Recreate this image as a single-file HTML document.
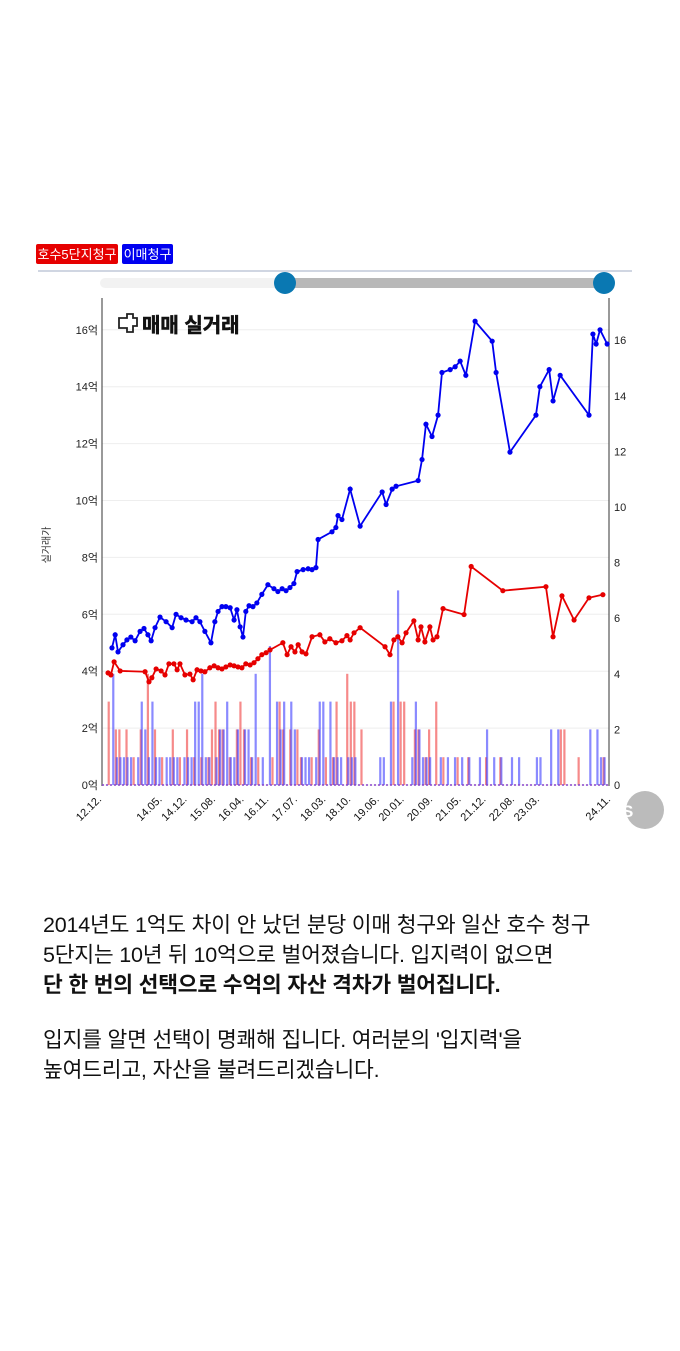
<!DOCTYPE html>
<html><head><meta charset="utf-8">
<style>
body{margin:0;background:#fff;width:680px;height:1351px;overflow:hidden;font-family:"Liberation Sans","Noto Sans CJK KR",sans-serif;}
.txt{position:absolute;left:43px;font-size:21.5px;color:#111;line-height:30px;white-space:nowrap;letter-spacing:-0.2px;}
</style></head><body>
<svg id="c" width="680" height="880" style="position:absolute;left:0;top:0" font-family="Liberation Sans, Noto Sans CJK KR, sans-serif">
<g>
<rect x="36" y="244" width="82" height="20" rx="2" fill="#e60000"/>
<text x="77" y="259" font-size="13" fill="#fff" text-anchor="middle">호수5단지청구</text>
<rect x="122" y="244" width="51" height="20" rx="2" fill="#0000f0"/>
<text x="147.5" y="259" font-size="13" fill="#fff" text-anchor="middle">이매청구</text>
</g>
<line x1="38" y1="271" x2="632" y2="271" stroke="#d0d6e2" stroke-width="2"/>
<g>
<rect x="100" y="278" width="505" height="10" rx="5" fill="#f2f2f2"/>
<rect x="285" y="278" width="320" height="10" fill="#b8b8b8"/>
<circle cx="285" cy="283" r="11" fill="#0a78b2"/>
<circle cx="604" cy="283" r="11" fill="#0a78b2"/>
</g>
<g id="grid"></g>
<line x1="102" y1="298" x2="102" y2="786" stroke="#333" stroke-width="1"/>
<line x1="609" y1="298" x2="609" y2="786" stroke="#333" stroke-width="1"/>
<g>
<path d="M119 318h8v-4h6v4h4v8h-4v6h-6v-4h-8z" fill="none" stroke="#222" stroke-width="1.8"/>
<text x="142" y="332" font-size="20" font-weight="bold" fill="#111" stroke="#111" stroke-width="0.6">매매 실거래</text>
</g>
<text transform="translate(50,545) rotate(-90)" font-size="10" fill="#333" text-anchor="middle">실거래가</text>
<g id="bars"></g><g id="lines"></g><g id="xl"></g>
<circle cx="645" cy="810" r="19" fill="#bbb"/>
<text x="622" y="817" font-size="17" font-weight="bold" fill="#fff">S</text>
</svg>
<div class="txt" style="top:910px">2014년도 1억도 차이 안 났던 분당 이매 청구와 일산 호수 청구<br>5단지는 10년 뒤 10억으로 벌어졌습니다. 입지력이 없으면<br><b>단 한 번의 선택으로 수억의 자산 격차가 벌어집니다.</b></div>
<div class="txt" style="top:1025px">입지를 알면 선택이 명쾌해 집니다. 여러분의 '입지력'을<br>높여드리고, 자산을 불려드리겠습니다.</div>
<script>
const blueM=[2.8,3.7,4.5,5.9,7.0,8.1,9.3,10.7,11.8,12.9,13.8,14.9,16.3,18.0,19.7,20.8,22.2,23.6,25.3,26.4,27.5,28.9,30.6,31.7,32.6,33.7,34.8,36.0,37.1,37.9,38.8,39.6,40.4,41.3,42.4,43.5,44.9,46.6,48.3,49.4,50.6,51.7,52.8,53.9,54.8,56.5,57.9,59.0,60.1,60.7,64.6,65.7,66.3,67.4,69.7,72.5,78.7,79.8,81.5,82.6,88.8,89.9,91.0,92.7,94.4,95.5,97.8,99.2,100.6,102.2,104.8,109.6,110.7,114.6,121.9,123.0,125.6,126.7,128.7,136.8,137.9,138.8,139.9,141.9];
const blueV=[4.82,5.28,4.68,4.93,5.1,5.2,5.07,5.4,5.5,5.28,5.07,5.53,5.9,5.74,5.53,6.0,5.88,5.8,5.74,5.88,5.74,5.4,5.0,5.74,6.1,6.27,6.27,6.23,5.8,6.16,5.56,5.2,6.1,6.3,6.27,6.4,6.7,7.04,6.9,6.8,6.9,6.83,6.94,7.08,7.5,7.57,7.6,7.57,7.64,8.63,8.9,9.05,9.47,9.33,10.4,9.1,10.3,9.86,10.4,10.5,10.7,11.44,12.68,12.25,13.0,14.5,14.6,14.7,14.9,14.4,16.3,15.6,14.5,11.7,13.0,14.0,14.6,13.5,14.4,13.0,15.85,15.5,16.0,15.5];
const redM=[1.7,2.5,3.4,5.1,12.1,13.2,14.0,15.2,16.6,17.7,18.8,20.2,21.1,21.9,23.3,24.7,25.6,26.7,27.8,28.9,30.3,31.5,32.6,33.7,34.8,36.0,37.1,38.2,39.3,40.4,41.6,42.7,43.8,44.9,46.1,47.2,50.8,52.0,53.1,54.2,55.1,56.2,57.3,59.0,61.2,62.6,64.0,65.7,67.4,68.8,69.7,70.8,72.5,79.5,80.9,82.0,83.1,84.3,85.4,87.6,88.8,89.6,90.7,92.1,93.0,94.1,95.8,101.7,103.7,112.6,124.7,126.7,129.2,132.6,136.8,140.7];
const redV=[3.94,3.87,4.33,4.01,3.98,3.63,3.77,4.08,4.01,3.87,4.26,4.26,4.05,4.26,3.87,3.9,3.7,4.05,4.01,3.98,4.12,4.19,4.12,4.08,4.15,4.22,4.19,4.15,4.12,4.26,4.22,4.3,4.44,4.58,4.65,4.75,5.0,4.58,4.86,4.68,4.93,4.68,4.61,5.21,5.28,5.03,5.14,5.0,5.07,5.25,5.1,5.35,5.53,4.86,4.58,5.1,5.21,5.0,5.35,5.77,5.1,5.56,5.03,5.56,5.1,5.21,6.2,5.99,7.68,6.83,6.97,5.21,6.65,5.8,6.58,6.69];
const blueBarM=[3,4,5,6,7,8,10,11,12,13,14,15,16,18,19,20,21,23,24,25,26,27,28,29,30,32,33,34,35,36,37,38,40,41,42,43,45,47,49,50,51,53,54,56,57,58,60,61,62,64,65,66,67,69,70,71,78,79,81,83,87,88,89,90,91,92,95,97,99,101,103,106,108,110,112,115,117,122,123,126,128,137,139,140,141];
const blueBarV=[4,1,1,1,1,1,1,3,2,1,3,1,1,1,1,1,1,1,1,1,3,3,4,1,1,1,2,2,3,1,1,2,2,2,1,4,1,5,3,2,3,3,2,1,1,1,1,3,3,3,1,1,1,1,1,1,1,1,3,7,1,3,2,1,1,1,1,1,1,1,1,1,2,1,1,1,1,1,1,2,2,2,2,1,1];
const redBarM=[2,4,5,7,9,11,13,15,17,20,22,24,26,28,30,31,32,33,34,36,38,39,40,42,44,48,50,51,53,55,56,59,61,63,65,66,69,70,71,73,82,84,85,88,89,91,92,94,96,100,103,108,112,129,130,134,141];
const redBarV=[3,2,2,2,1,2,4,2,1,2,1,2,1,1,1,2,3,2,2,1,2,3,2,1,1,1,3,2,2,2,1,1,2,1,1,3,4,3,3,2,3,3,3,2,2,1,2,3,1,1,1,1,1,2,2,1,1];
const xTickM=[0,17,24,32,40,47,55,63,70,78,85,93,101,108,116,123,143];
const xTickL=["12.12.","14.05.","14.12.","15.08.","16.04.","16.11.","17.07.","18.03.","18.10.","19.06.","20.01.","20.09.","21.05.","21.12.","22.08.","23.03.","24.11."];
const yLeft=[0,2,4,6,8,10,12,14,16];
const NS='http://www.w3.org/2000/svg';
const X=m=>102+m*3.56, YL=v=>785-v*28.45, YR=v=>785-v*27.8;
function mk(t,a,p){const e=document.createElementNS(NS,t);for(const k in a)e.setAttribute(k,a[k]);p.appendChild(e);return e;}
const grid=document.getElementById('grid');
yLeft.forEach(v=>{
 const l=mk('line',{x1:102,x2:609,y1:YL(v),y2:YL(v),stroke:'#eee'},grid);
 
 
 const t=mk('text',{x:98,y:YL(v)+4,'font-size':11,'text-anchor':'end',fill:'#222'},grid);t.textContent=v+'억';
 
 
 const r=mk('text',{x:614,y:YR(v)+4,'font-size':11,fill:'#222'},grid);r.textContent=v;
 
 
});
const bars=document.getElementById('bars');
redBarM.forEach((m,i)=>{const b=mk('rect',{x:X(m)-1.5,y:YR(redBarV[i]),width:2.2,height:redBarV[i]*27.8,fill:'rgba(240,60,60,0.6)'},bars);
 
 });
blueBarM.forEach((m,i)=>{const b=mk('rect',{x:X(m)-0.5,y:YR(blueBarV[i]),width:2.2,height:blueBarV[i]*27.8,fill:'rgba(60,60,255,0.6)'},bars);
 
 });
mk('line',{x1:102,x2:609,y1:785,y2:785,stroke:'#8844cc','stroke-dasharray':'2,2','stroke-width':1.5},bars);
const lines=document.getElementById('lines');
function series(M,V,c,n){
 const p=mk('polyline',{points:M.map((m,i)=>X(m)+','+YL(V[i])).join(' '),fill:'none',stroke:c,'stroke-width':1.8},lines);
 
 
 M.forEach((m,i)=>{const d=mk('circle',{cx:X(m),cy:YL(V[i]),r:2.6,fill:c},lines);
  
  });
}
series(redM,redV,'#e60000','hosu');
series(blueM,blueV,'#0000f0','imae');
const xl=document.getElementById('xl');
xTickM.forEach((m,i)=>{const t=mk('text',{transform:`translate(${X(m)},800) rotate(-45)`,'font-size':11,'text-anchor':'end',fill:'#111'},xl);t.textContent=xTickL[i];
 
 });
</script>
</body></html>
